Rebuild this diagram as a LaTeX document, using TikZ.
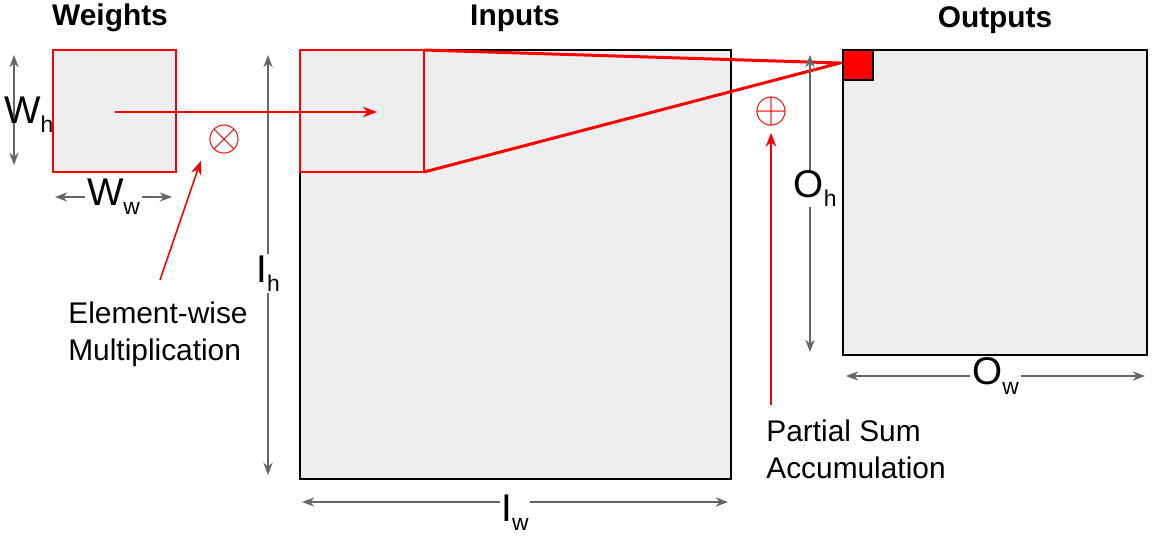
\documentclass[tikz,border=0pt]{standalone}
\usepackage{fontspec}
\setmainfont{Liberation Sans}
\usetikzlibrary{arrows.meta,positioning}
\definecolor{boxgray}{HTML}{EEEEEE}
\definecolor{dimgray}{HTML}{666666}
\newcommand{\dimsub}[2]{#1\raisebox{-0.45ex}{\fontsize{13}{13}\selectfont #2}}
\tikzset{
  title/.style={font=\fontsize{17}{20}\selectfont\bfseries},
  dimline/.style={dimgray, line width=0.9pt, {Stealth[length=7pt]}-{Stealth[length=7pt]}},
  dimlabel/.style={fill=white, text=black, inner sep=1pt, font=\fontsize{22}{24}\selectfont},
  note/.style={align=left, font=\fontsize{17}{21}\selectfont, inner sep=0pt},
  redarrow/.style={red, line width=0.9pt, -{Stealth[length=8pt]}},
}
\begin{document}
\begin{tikzpicture}[x=0.02cm, y=-0.02cm]
  \useasboundingbox (0,0) rectangle (1163,537);
  % boxes
  \draw[fill=boxgray, draw=red, line width=1.7pt] (53,50) rectangle (176,172);
  \draw[fill=boxgray, line width=1.5pt] (300,50) rectangle (731,479);
  \draw[red, line width=1.7pt] (300,50) rectangle (424,172);
  \draw[fill=boxgray, line width=1.5pt] (843,50) rectangle (1147,355);
  \coordinate (tip) at (840,63);
  \draw[red, line width=1.7pt] (424,50) -- (tip) -- (424,172);
  \draw[fill=red, line width=1.2pt] (843,50) rectangle (873,80);
  % titles
  \node[title] (wt) at (110,18) {Weights};
  \node[title] (it) at (515,18) {Inputs};
  \node[title] (ot) at (995,20) {Outputs};
  % dimensions
  \draw[dimline] (14,55) -- (14,165);
  \node[dimlabel, anchor=west, fill=none] (wh) at (2,115) {\dimsub{W}{h}};
  \draw[dimline] (55,197) -- node[dimlabel] (ww) {\dimsub{W}{w}} (172,197);
  \draw[dimline] (268,55) -- node[dimlabel, pos=0.52] (ih) {\dimsub{I}{h}} (268,475);
  \draw[dimline] (302,502) -- node[dimlabel, yshift=-6pt] (iw) {\dimsub{I}{w}} (728,502);
  \draw[dimline] (810,55) -- node[dimlabel, pos=0.45, xshift=3pt, inner sep=0pt] (oh) {\dimsub{O}{h}} (810,352);
  \draw[line width=1.5pt] (843,50) -- (843,355);
  \draw[dimline] (846,376) -- node[dimlabel] (ow) {\dimsub{O}{w}} (1145,376);
  % operations
  \coordinate (wc) at (115,112);
  \coordinate (ic) at (377,112);
  \draw[redarrow] (wc) -- (ic);
  \node[red, font=\fontsize{24}{24}\selectfont] (mul) at (224,140) {$\otimes$};
  \node[red, font=\fontsize{24}{24}\selectfont] (add) at (771,112) {$\oplus$};
  \node[note, anchor=north west] (multxt) at (68,302) {Element-wise\\Multiplication};
  \node[note, anchor=north west] (sumtxt) at (766,420) {Partial Sum\\Accumulation};
  \coordinate (m0) at (160,280);
  \coordinate (s0) at (771,405);
  \draw[redarrow] (m0) -- (mul.south west);
  \draw[redarrow] (s0) -- (add.south);
  \draw[fill=red, line width=1.2pt] (843,50) rectangle (873,80);
\end{tikzpicture}
\end{document}
